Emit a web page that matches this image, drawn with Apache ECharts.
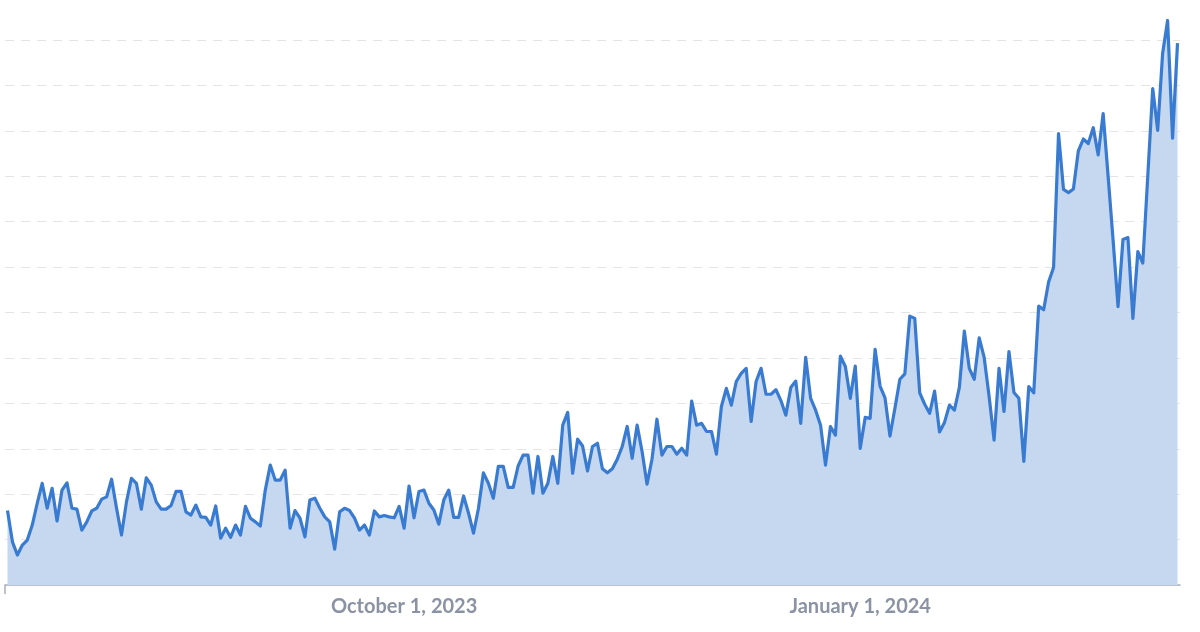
<!DOCTYPE html>
<html>
<head>
<meta charset="utf-8">
<script src="https://cdn.jsdelivr.net/npm/echarts@6/dist/echarts.min.js"></script>
<style>
html,body{margin:0;padding:0;background:#fff;}
#chart{width:1200px;height:632px;}
</style>
</head>
<body>
<div id="chart"></div>
<script>
// First day of the daily series (UTC)
const startDate = '2023-07-13';

// Daily values (arbitrary units, gridline step = 10)
const values = [
  16.4, 9.5, 6.6, 8.8, 9.9, 13.2, 18.0, 22.4, 16.9, 21.3,
  14.1, 20.9, 22.5, 16.9, 16.7, 12.1, 13.9, 16.3, 16.9, 18.9,
  19.4, 23.3, 16.9, 11.0, 18.3, 23.5, 22.4, 16.7, 23.6, 22.0,
  18.3, 16.7, 16.7, 17.5, 20.6, 20.6, 16.1, 15.4, 17.6, 15.0,
  14.9, 13.2, 17.4, 10.3, 12.5, 10.5, 13.2, 11.0, 17.3, 14.7,
  13.9, 13.0, 20.9, 26.4, 23.1, 23.1, 25.3, 12.5, 16.4, 14.7,
  10.6, 18.7, 19.1, 16.9, 15.0, 13.9, 7.9, 16.1, 16.9, 16.4,
  14.7, 12.1, 13.2, 11.0, 16.3, 15.0, 15.3, 15.0, 14.8, 17.3,
  12.5, 21.8, 14.8, 20.6, 20.9, 18.0, 16.5, 13.4, 18.7, 20.9,
  14.9, 14.9, 19.6, 15.8, 11.4, 16.9, 24.7, 22.4, 19.1, 26.1,
  26.1, 21.5, 21.5, 26.2, 28.6, 28.6, 20.2, 28.3, 20.2, 22.4,
  28.3, 22.4, 35.2, 38.0, 24.6, 32.1, 30.6, 25.1, 30.5, 31.2,
  25.6, 24.7, 25.6, 27.7, 30.5, 34.9, 27.9, 35.2, 29.4, 22.2,
  27.7, 36.5, 28.6, 30.5, 30.5, 28.8, 30.1, 28.6, 40.5, 35.2,
  35.6, 33.8, 33.8, 28.8, 39.3, 43.3, 39.6, 44.8, 46.6, 47.7,
  36.0, 44.8, 47.7, 42.0, 42.0, 43.0, 40.6, 37.4, 43.5, 44.9,
  35.6, 50.1, 41.1, 38.5, 35.2, 26.4, 34.9, 33.0, 50.4, 48.1,
  41.1, 48.2, 30.1, 36.9, 36.7, 51.9, 43.8, 41.2, 32.8, 38.9,
  45.3, 46.5, 59.2, 58.7, 42.3, 39.8, 37.8, 42.7, 33.7, 35.8,
  39.6, 38.5, 43.5, 55.9, 47.7, 45.3, 54.4, 50.1, 41.5, 31.9,
  47.7, 38.2, 51.4, 42.4, 41.1, 27.2, 43.7, 42.3, 61.4, 60.6,
  66.7, 69.9, 99.4, 87.1, 86.4, 87.2, 95.6, 98.2, 97.2, 100.7,
  94.7, 103.8, 90.0, 76.0, 61.3, 76.1, 76.5, 58.7, 73.4, 70.9,
  90.0, 109.3, 100.1, 117.1, 124.3, 98.4, 119.3
];

// X-axis tick labels
const tickDates = ['2023-10-01', '2024-01-01'];
const tickLabels = ['October 1, 2023', 'January 1, 2024'];

// Y-axis gridline scale
const yMin = 0, yMax = 120, yStep = 10;

const DAY = 86400000;
function utc(s) { const p = s.split('-').map(Number); return Date.UTC(p[0], p[1] - 1, p[2]); }
const t0 = utc(startDate);
// x = day number counted from startDate
const seriesData = values.map((v, i) => [i, v]);
const tickDays = tickDates.map(d => Math.round((utc(d) - t0) / DAY));
const xMin = -0.5;
const xMax = values.length - 1 + 0.5;

const chart = echarts.init(document.getElementById('chart'), null, { renderer: 'canvas' });
chart.setOption({
  animation: false,
  backgroundColor: '#ffffff',
  grid: { left: 5, right: 20, top: 40, bottom: 47, containLabel: false },
  xAxis: {
    type: 'value',
    min: xMin,
    max: xMax,
    axisLine: { show: true, lineStyle: { color: '#a7adba', width: 1.5 } },
    axisTick: { show: true, customValues: [xMin], length: 9, lineStyle: { color: '#a7adba', width: 1.5 } },
    axisLabel: {
      customValues: tickDays,
      margin: 12,
      color: '#8a92a3',
      fontFamily: 'Lato',
      fontWeight: 'bold',
      fontSize: 20,
      formatter: function (val) {
        const k = tickDays.indexOf(Math.round(val));
        return k >= 0 ? tickLabels[k] : '';
      }
    },
    splitLine: { show: false }
  },
  yAxis: {
    type: 'value',
    min: yMin,
    max: yMax,
    interval: yStep,
    axisLine: { show: false },
    axisTick: { show: false },
    axisLabel: { show: false },
    splitLine: {
      show: true,
      showMinLine: false,
      lineStyle: { color: '#e4e4e4', type: [9, 7], width: 1 }
    }
  },
  series: [{
    type: 'line',
    data: seriesData,
    showSymbol: false,
    clip: false,
    lineStyle: { color: '#3a7bd2', width: 3.2, join: 'round' },
    itemStyle: { color: '#3a7bd2' },
    areaStyle: { color: '#c6d8ef', opacity: 1 }
  }]
});
</script>
</body>
</html>
